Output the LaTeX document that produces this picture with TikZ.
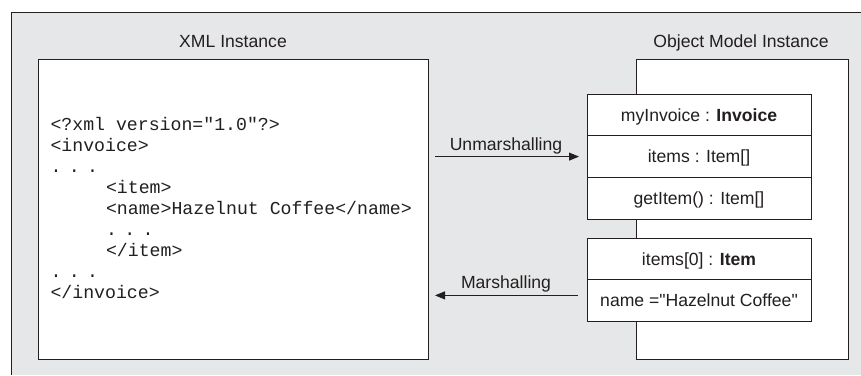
\documentclass[tikz,border=0pt]{standalone}
\usepackage{fontspec}
\setmainfont{Liberation Sans}[Ligatures=TeXOff]
\setmonofont{Liberation Mono}
\usetikzlibrary{arrows.meta}
\definecolor{bg}{HTML}{E6E7E8}
\definecolor{ink}{HTML}{231F20}
\newcommand{\dotrow}{.\kern7.4pt.\kern7.4pt.}
\begin{document}
\begin{tikzpicture}[x=1pt,y=-1pt, line width=0.9pt,
  every node/.style={inner sep=0pt, outer sep=0pt},
  sans/.style={font=\fontsize{17.6}{20}\selectfont, text=ink},
  code/.style={font=\ttfamily\fontsize{18.2}{21}\selectfont, anchor=base west, text=ink},
  panel/.style={draw=ink, fill=white, anchor=north west},
  row/.style={draw=ink, fill=white, minimum width=224pt, minimum height=41.6pt,
    text height=12.5pt, text depth=0pt, sans, anchor=north},
  flow/.style={draw=ink, -{Triangle[length=10pt,width=8pt]}}
]
\useasboundingbox (0,0) rectangle (861,375);
\fill[bg] (11,12) rectangle (861,375);
\draw[ink] (11,375) -- (11,12) -- (861,12);

% panels
\node[panel, minimum width=390pt, minimum height=300pt] (xml) at (38,59) {};
\node[panel, minimum width=212pt, minimum height=300pt] (om) at (636,59) {};
\node[sans, anchor=base] (xmlt) at (233,47) {XML Instance};
\node[sans, anchor=base] (omt) at (741,47) {Object Model Instance};

% code
\node[code] (l1) at (50.5,130) {<?xml version="1.0"?>};
\node[code] (l2) at (50.5,151) {<invoice>};
\node[code] (l3) at (50.5,172) {\dotrow};
\node[code] (l4) at (106,193) {<item>};
\node[code] (l5) at (106,214) {<name>Hazelnut Coffee</name>};
\node[code] (l6) at (106,235) {\dotrow};
\node[code] (l7) at (106,256) {</item>};
\node[code] (l8) at (50.5,277) {\dotrow};
\node[code] (l9) at (50.5,298) {</invoice>};

% object boxes
\node[row] (c1a) at (699,94.2) {myInvoice : \textbf{Invoice}};
\node[row] (c1b) at (c1a.south) {items : Item[]};
\node[row] (c1c) at (c1b.south) {getItem() : Item[]};
\node[row] (c2a) at (699,238) {items[0] : \textbf{Item}};
\node[row] (c2b) at (c2a.south) {name ="Hazelnut Coffee"};

% arrows
\draw[flow] ([xshift=7pt]xml.east |- c1b.west) -- ([xshift=-8pt]c1b.west);
\node[sans, anchor=base] (unl) at (506,150) {Unmarshalling};
\coordinate (m1) at ([xshift=-9pt,yshift=5pt]c2b.west);
\draw[flow] (m1) -- ([xshift=7pt]xml.east |- m1);
\node[sans, anchor=base] (mal) at (506,288) {Marshalling};
\end{tikzpicture}
\end{document}
